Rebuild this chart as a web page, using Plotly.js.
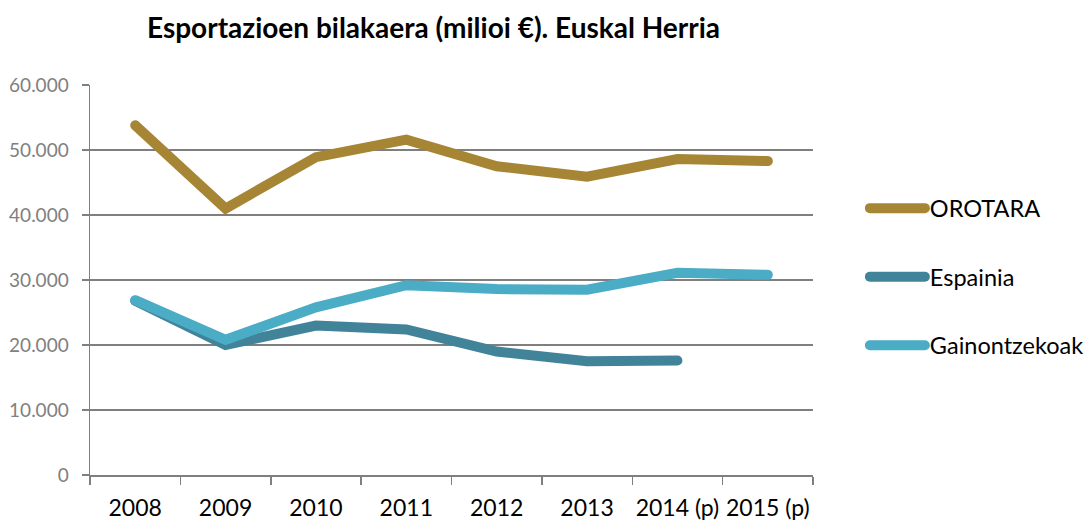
<!DOCTYPE html>
<html>
<head>
<meta charset="utf-8">
<script src="https://cdn.plot.ly/plotly-3.0.1.min.js"></script>
<style>
html,body{margin:0;padding:0;background:#fff;}
#chart{width:1092px;height:522px;}
.scatterlayer .js-line, .legendlines .js-line{stroke-linecap:round;}
</style>
</head>
<body>
<div id="chart"></div>
<script>
var categories = ["2008","2009","2010","2011","2012","2013","2014 (p)","2015 (p)"];
var orotara = [53800, 41000, 48900, 51600, 47500, 45900, 48600, 48300];
var espainia = [26800, 20000, 23000, 22400, 19000, 17500, 17600, null];
var gainontzekoak = [26900, 20800, 25800, 29200, 28600, 28500, 31100, 30800];
var seriesNames = ["OROTARA", "Espainia", "Gainontzekoak"];
var seriesColors = ["#A68535", "#41849A", "#4BACC6"];
var yTicks = [0, 10000, 20000, 30000, 40000, 50000, 60000];

var FONT = "Lato, 'Open Sans', sans-serif";
var data = [orotara, espainia, gainontzekoak].map(function(vals, i){
  return {
    x: categories, y: vals, type: "scatter", mode: "lines",
    name: seriesNames[i], legendgroup: "g" + i,
    line: {color: seriesColors[i], width: 10},
    connectgaps: false, hoverinfo: "skip"
  };
});

var layout = {
  width: 1092, height: 522,
  paper_bgcolor: "#fff", plot_bgcolor: "#fff",
  separators: ",.",
  margin: {l: 90, r: 279, t: 84.5, b: 46.5, pad: 0, autoexpand: false},
  title: {
    text: "<b>Esportazioen bilakaera (milioi €). Euskal Herria</b>",
    font: {family: FONT, size: 28, color: "#000"},
    x: 0.397, xanchor: "center", xref: "container",
    y: 0.946, yanchor: "middle", yref: "container"
  },
  xaxis: {
    type: "category", tickson: "boundaries",
    ticks: "outside", ticklen: 8, tickcolor: "#7f7f7f", tickwidth: 1.5,
    ticklabelstandoff: 12, tickangle: 0,
    showline: true, linecolor: "#7f7f7f", linewidth: 1.5,
    showgrid: false, zeroline: false,
    tickfont: {family: FONT, size: 23, color: "#000"},
    range: [-0.5, 7.5], fixedrange: true
  },
  yaxis: {
    range: [0, 60000], tickvals: yTicks, tickformat: ",.0f",
    ticks: "outside", ticklen: 7, tickcolor: "#7f7f7f", tickwidth: 1.5,
    ticklabelstandoff: 9,
    showline: true, linecolor: "#7f7f7f", linewidth: 1.5,
    showgrid: true, gridcolor: "#7f7f7f", gridwidth: 1.5,
    zeroline: false,
    tickfont: {family: FONT, size: 19, color: "#808080"},
    fixedrange: true
  },
  showlegend: true,
  legend: {
    xref: "container", x: 0.792, xanchor: "left",
    y: 0.508, yanchor: "middle",
    font: {family: FONT, size: 23.5, color: "#000"},
    itemwidth: 55,
    tracegroupgap: 35, itemclick: false, itemdoubleclick: false,
    bgcolor: "rgba(0,0,0,0)"
  }
};

Plotly.newPlot("chart", data, layout, {displayModeBar: false, staticPlot: true});
</script>
</body>
</html>
